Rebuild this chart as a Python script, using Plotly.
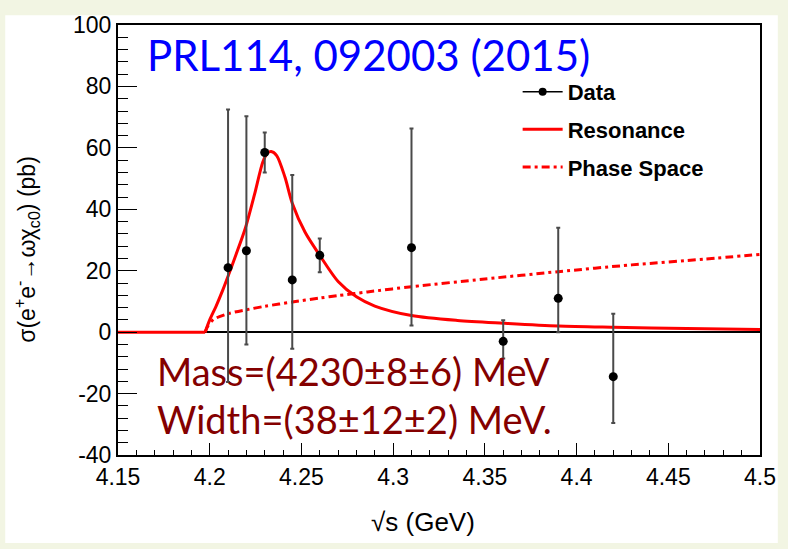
import plotly.graph_objects as go

# Measured cross sections of e+e- -> omega chi_c0 (pb), asymmetric errors
energy = [4.21, 4.22, 4.23, 4.245, 4.26, 4.31, 4.36, 4.39, 4.42]
sigma = [21.0, 26.5, 58.5, 17.0, 25.0, 27.5, -3.0, 11.0, -14.5]
err_up = [51.5, 43.8, 6.5, 34.2, 5.5, 38.8, 6.9, 23.0, 20.5]
err_down = [37.2, 30.5, 6.5, 22.4, 5.5, 25.3, 5.6, 11.0, 15.1]

# Resonance fit curve (zero below threshold)
res_x = [4.15, 4.1975, 4.200, 4.2035, 4.207, 4.2105, 4.2145, 4.2195, 4.2245,
         4.2290, 4.2315, 4.2335, 4.2365, 4.2410, 4.2450, 4.2520, 4.2600,
         4.2700, 4.2800, 4.2900, 4.3100, 4.3350, 4.3600, 4.3900, 4.4200,
         4.4600, 4.5000]
res_y = [0.0, 0.0, 4.0, 8.5, 13.5, 19.0, 25.5, 34.0, 45.0,
         55.5, 58.3, 58.8, 57.5, 50.5, 42.0, 32.5, 25.0,
         16.5, 11.5, 8.5, 5.4, 3.8, 2.9, 2.0, 1.6,
         1.2, 0.9]

# Phase-space curve
ps_x = [4.1975, 4.199, 4.2023, 4.21, 4.22, 4.23, 4.245, 4.26, 4.27, 4.286,
        4.31, 4.35, 4.39, 4.43, 4.47, 4.5]
ps_y = [0.0, 2.0, 4.2, 6.0, 7.3, 8.4, 9.8, 11.1, 11.9, 13.1,
        14.8, 17.3, 19.7, 21.9, 23.8, 25.3]

x_ticks = [4.15, 4.2, 4.25, 4.3, 4.35, 4.4, 4.45, 4.5]
x_labels = ["4.15", "4.2", "4.25", "4.3", "4.35", "4.4", "4.45", "4.5"]
y_ticks = [-40, -20, 0, 20, 40, 60, 80, 100]
y_labels = ["-40", "-20", "0", "20", "40", "60", "80", "100"]

W, H = 788, 549
L, R, T, B = 118, 21, 15, 94
PW, PH = W - L - R, H - T - B


def px(xp):
    return (xp - L) / PW


def py(yp):
    return (H - B - yp) / PH


TICK_FONT = dict(family="Liberation Sans, Arial, sans-serif", size=23, color="black")
RED = "#ff0000"

# split the resonance at threshold: straight segment below, smooth curve above
k = res_x.index(4.1975)

fig = go.Figure()

fig.add_trace(go.Scatter(
    x=res_x[k:], y=res_y[k:], mode="lines", name="<b>Resonance</b>",
    line=dict(color=RED, width=3, shape="spline", smoothing=0.8),
    legendgroup="b", legendrank=2,
))
fig.add_trace(go.Scatter(
    x=res_x[:k + 1], y=res_y[:k + 1], mode="lines", showlegend=False,
    line=dict(color=RED, width=3), legendgroup="b",
))
fig.add_trace(go.Scatter(
    x=ps_x, y=ps_y, mode="lines", name="<b>Phase Space</b>",
    line=dict(color=RED, width=3, dash="8px,4px,3px,4px", shape="spline", smoothing=0.8),
    legendgroup="c", legendrank=3,
))
fig.add_trace(go.Scatter(
    x=energy, y=sigma, mode="markers", showlegend=False,
    marker=dict(color="black", size=9),
    error_y=dict(type="data", symmetric=False, array=err_up, arrayminus=err_down,
                 color="#4a4a4a", thickness=2, width=2),
))
# legend entry for the data points
fig.add_trace(go.Scatter(
    x=[None], y=[None], mode="lines+markers", name="<b>Data</b>",
    line=dict(color="black", width=1.5), marker=dict(color="black", size=8),
    legendgroup="a", legendrank=1,
))

fig.update_layout(
    width=W, height=H, autosize=False,
    margin=dict(l=L, r=R, t=T, b=B, pad=0),
    paper_bgcolor="#f2f5e3", plot_bgcolor="white",
    showlegend=True,
    legend=dict(
        x=px(522), y=py(62), xanchor="left", yanchor="top",
        bgcolor="rgba(0,0,0,0)", borderwidth=0,
        font=dict(family="Liberation Sans, Arial, sans-serif", size=22, color="black"),
        tracegroupgap=6, itemwidth=40,
    ),
    xaxis=dict(
        range=[4.15, 4.5], tickvals=x_ticks, ticktext=x_labels,
        ticks="inside", ticklen=12, tickwidth=1, tickcolor="black",
        minor=dict(dtick=0.01, tick0=4.15, ticks="inside", ticklen=5, tickcolor="black"),
        showline=True, linecolor="black", linewidth=2, mirror=True,
        showgrid=False, zeroline=False, tickfont=TICK_FONT,
    ),
    yaxis=dict(
        range=[-40, 100], tickvals=y_ticks, ticktext=y_labels,
        ticks="inside", ticklen=19, tickwidth=1, tickcolor="black",
        minor=dict(dtick=4, tick0=0, ticks="inside", ticklen=10, tickcolor="black"),
        showline=True, linecolor="black", linewidth=2, mirror=True,
        showgrid=False, zeroline=True, zerolinecolor="black", zerolinewidth=1.5,
        tickfont=TICK_FONT,
    ),
    shapes=[
        dict(type="rect", xref="paper", yref="paper", layer="below",
             x0=px(4), x1=px(785), y0=py(545), y1=py(5),
             fillcolor="white", line=dict(width=0)),
    ],
    annotations=[
        dict(text="PRL114, 092003 (2015)", xref="paper", yref="paper",
             x=px(145), y=py(46), xanchor="left", yanchor="middle", showarrow=False,
             font=dict(family="Lato, sans-serif", size=42, color="#0000ff")),
        dict(text="Mass=(4230±8±6) MeV", xref="paper", yref="paper",
             x=px(155), y=py(369), xanchor="left", yanchor="middle", showarrow=False,
             font=dict(family="Lato, sans-serif", size=38, color="#840000")),
        dict(text="Width=(38±12±2) MeV.", xref="paper", yref="paper",
             x=px(155), y=py(418), xanchor="left", yanchor="middle", showarrow=False,
             font=dict(family="Lato, sans-serif", size=38, color="#840000")),
        dict(text="σ(e<sup>+</sup>e<sup>-</sup>→ωχ<sub>c0</sub>) (pb)",
             xref="paper", yref="paper", x=px(25), y=py(245),
             xanchor="center", yanchor="middle", textangle=-90, showarrow=False,
             font=dict(family="Liberation Sans, Arial, sans-serif", size=23, color="black")),
        dict(text="√s (GeV)",
             xref="paper", yref="paper", x=px(426), y=py(524),
             xanchor="center", yanchor="middle", showarrow=False,
             font=dict(family="Liberation Sans, Arial, sans-serif", size=26, color="black")),
    ],
)

fig.write_html("out.html")
